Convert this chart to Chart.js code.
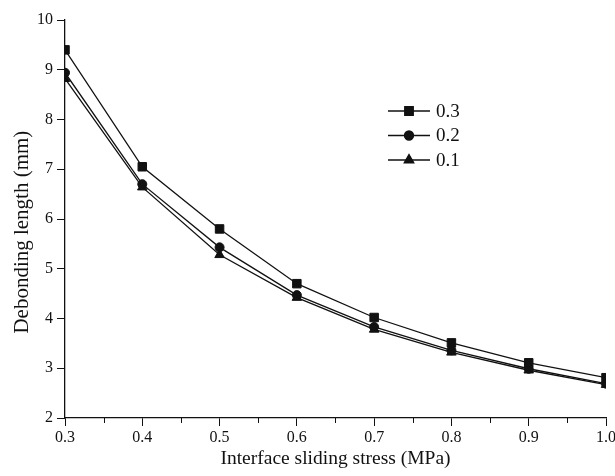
<!DOCTYPE html>
<html>
<head>
<meta charset="utf-8">
<script src="https://cdn.jsdelivr.net/npm/chart.js@4/dist/chart.umd.min.js"></script>
<style>
  html, body { margin: 0; padding: 0; background: #fff; overflow: hidden; }
  #wrap { width: 615px; height: 476px; overflow: hidden; }
</style>
</head>
<body>
<div id="wrap"><canvas id="chart" width="618" height="476"></canvas></div>
<script>
const stress = [0.3, 0.4, 0.5, 0.6, 0.7, 0.8, 0.9, 1.0];
const len03 = [9.40, 7.05, 5.80, 4.70, 4.02, 3.51, 3.11, 2.81];
const len02 = [8.94, 6.70, 5.43, 4.47, 3.83, 3.36, 2.99, 2.69];
const len01 = [8.82, 6.64, 5.28, 4.42, 3.78, 3.32, 2.96, 2.67];
const seriesNames = ['0.3', '0.2', '0.1'];
const xTicks = [0.3, 0.4, 0.5, 0.6, 0.7, 0.8, 0.9, 1.0];
const yTicks = [2, 3, 4, 5, 6, 7, 8, 9, 10];

const serif = "'Liberation Serif', 'DejaVu Serif', serif";

function pts(ys) {
    return stress.map((x, i) => ({ x: x, y: ys[i] }));
}

const styles = [
    { pointStyle: 'rect', pointRadius: 6 },
    { pointStyle: 'circle', pointRadius: 4.5 },
    { pointStyle: 'triangle', pointRadius: 5.5 }
];

const datasets = [len03, len02, len01].map((ys, i) => ({
    label: seriesNames[i],
    data: pts(ys),
    borderColor: '#111',
    backgroundColor: '#111',
    borderWidth: 1.3,
    pointBorderWidth: 1,
    pointStyle: styles[i].pointStyle,
    pointRadius: styles[i].pointRadius,
    tension: 0
}));

// legend: line with marker, drawn at the right of the plot
const lineLegend = {
    id: 'lineLegend',
    afterDraw(chart) {
        const ctx = chart.ctx;
        const x0 = 388, x1 = 430, top = 111, gap = 24.5;
        ctx.save();
        chart.data.datasets.forEach((ds, i) => {
            const y = top + i * gap;
            ctx.strokeStyle = '#111';
            ctx.lineWidth = 1.3;
            ctx.beginPath();
            ctx.moveTo(x0, y);
            ctx.lineTo(x1, y);
            ctx.stroke();
            ctx.fillStyle = '#111';
            Chart.helpers.drawPoint(ctx, {
                pointStyle: ds.pointStyle,
                radius: ds.pointRadius,
                borderWidth: 1,
                rotation: 0
            }, (x0 + x1) / 2, y);
            ctx.fill();
            ctx.font = '19px ' + serif;
            ctx.textBaseline = 'middle';
            ctx.textAlign = 'left';
            ctx.fillText(ds.label, x1 + 6, y + 1);
        });
        ctx.restore();
    }
};

// minor ticks at the half steps of the x axis
const minorTicks = {
    id: 'minorTicks',
    afterDraw(chart) {
        const xs = chart.scales.x;
        const ctx = chart.ctx;
        const bottom = chart.chartArea.bottom;
        ctx.save();
        ctx.strokeStyle = '#111';
        ctx.lineWidth = 1;
        for (let i = 0; i < xTicks.length - 1; i++) {
            const v = (xTicks[i] + xTicks[i + 1]) / 2;
            const px = Math.round(xs.getPixelForValue(v)) + 0.5;
            ctx.beginPath();
            ctx.moveTo(px, bottom);
            ctx.lineTo(px, bottom + 5);
            ctx.stroke();
        }
        ctx.restore();
    }
};

new Chart(document.getElementById('chart'), {
    type: 'line',
    data: { datasets: datasets },
    options: {
        responsive: false,
        animation: false,
        layout: { padding: { top: 20, left: 0, right: 0, bottom: 0 } },
        plugins: {
            legend: { display: false },
            tooltip: { enabled: false }
        },
        scales: {
            x: {
                type: 'linear',
                min: 0.3,
                max: 1.0,
                afterBuildTicks: (s) => { s.ticks = xTicks.map(v => ({ value: v })); },
                ticks: {
                    color: '#111',
                    font: { family: serif, size: 16 },
                    padding: 2,
                    maxRotation: 0,
                    callback: (v) => v.toFixed(1)
                },
                grid: { drawOnChartArea: false, drawTicks: true, tickLength: 8, tickColor: '#111', tickWidth: 1 },
                border: { color: '#111', width: 1.3 },
                title: {
                    display: true,
                    text: 'Interface sliding stress (MPa)',
                    color: '#111',
                    font: { family: serif, size: 19.5 },
                    padding: { top: 1, bottom: 5 }
                },
                afterFit: (s) => { s.height = 58; }
            },
            y: {
                min: 2,
                max: 10,
                afterBuildTicks: (s) => { s.ticks = yTicks.map(v => ({ value: v })); },
                ticks: {
                    color: '#111',
                    font: { family: serif, size: 16 },
                    padding: 4
                },
                grid: { drawOnChartArea: false, drawTicks: true, tickLength: 8, tickColor: '#111', tickWidth: 1 },
                border: { color: '#111', width: 1.3 },
                title: {
                    display: true,
                    text: 'Debonding length (mm)\u00a0\u00a0\u00a0\u00a0\u00a0',
                    color: '#111',
                    font: { family: serif, size: 21 },
                    padding: { top: 10, bottom: 0 }
                },
                afterFit: (s) => { s.width = 65; }
            }
        }
    },
    plugins: [lineLegend, minorTicks]
});
</script>
</body>
</html>
